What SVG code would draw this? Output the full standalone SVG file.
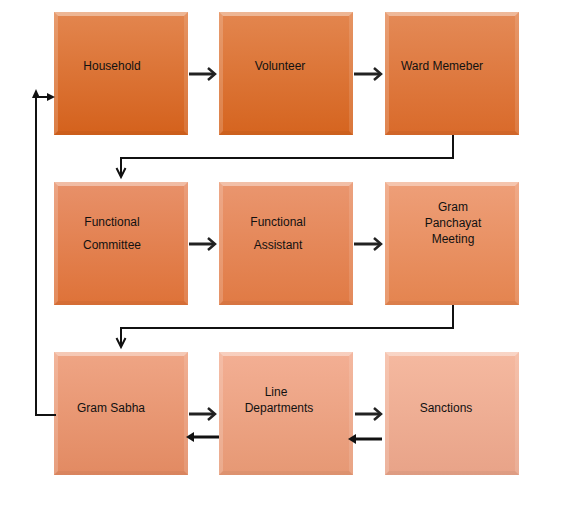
<svg xmlns="http://www.w3.org/2000/svg" width="570" height="513" viewBox="0 0 570 513">
<style>
.t{font-family:"Liberation Sans",Arial,sans-serif;font-size:12px;fill:#111;text-anchor:middle}
.c{fill:none;stroke:#111;stroke-width:2}
.fa{fill:none;stroke:#222;stroke-width:3}
.hd{fill:none;stroke:#222;stroke-width:2.5;stroke-linejoin:miter}
.back{fill:none;stroke:#111;stroke-width:3}
</style>
<defs>
<linearGradient id="g1" x1="0" y1="0" x2="0" y2="1"><stop offset="0" stop-color="#E3864F"/><stop offset="1" stop-color="#D4611C"/></linearGradient>
<linearGradient id="g2" x1="0" y1="0" x2="0" y2="1"><stop offset="0" stop-color="#E3864F"/><stop offset="1" stop-color="#D5641F"/></linearGradient>
<linearGradient id="g3" x1="0" y1="0" x2="0" y2="1"><stop offset="0" stop-color="#E48A57"/><stop offset="1" stop-color="#D96A2A"/></linearGradient>
<linearGradient id="g4" x1="0" y1="0" x2="0" y2="1"><stop offset="0" stop-color="#E8916A"/><stop offset="1" stop-color="#DE7238"/></linearGradient>
<linearGradient id="g5" x1="0" y1="0" x2="0" y2="1"><stop offset="0" stop-color="#EA966F"/><stop offset="1" stop-color="#E07A44"/></linearGradient>
<linearGradient id="g6" x1="0" y1="0" x2="0" y2="1"><stop offset="0" stop-color="#EE9F79"/><stop offset="1" stop-color="#E4844F"/></linearGradient>
<linearGradient id="g7" x1="0" y1="0" x2="0" y2="1"><stop offset="0" stop-color="#EFA585"/><stop offset="1" stop-color="#E28A62"/></linearGradient>
<linearGradient id="g8" x1="0" y1="0" x2="0" y2="1"><stop offset="0" stop-color="#F3AF94"/><stop offset="1" stop-color="#E69874"/></linearGradient>
<linearGradient id="g9" x1="0" y1="0" x2="0" y2="1"><stop offset="0" stop-color="#F5B9A0"/><stop offset="1" stop-color="#E8A388"/></linearGradient>
<g id="bevel">
<polygon points="0,0 134,0 130,4 4,4" fill="#fff" fill-opacity="0.4"/>
<polygon points="0,0 4,4 4,119 0,123" fill="#fff" fill-opacity="0.18"/>
<polygon points="134,0 134,123 130,119 130,4" fill="#fff" fill-opacity="0.12"/>
<polygon points="0,123 4,119 130,119 134,123" fill="#000" fill-opacity="0.04"/>
</g>
</defs>

<g id="household"><rect x="54" y="12" width="134" height="123" fill="url(#g1)"/><use href="#bevel" x="54" y="12"/><text class="t" x="112" y="70">Household</text></g>
<g id="volunteer"><rect x="219" y="12" width="134" height="123" fill="url(#g2)"/><use href="#bevel" x="219" y="12"/><text class="t" x="280" y="70">Volunteer</text></g>
<g id="ward"><rect x="385" y="12" width="134" height="123" fill="url(#g3)"/><use href="#bevel" x="385" y="12"/><text class="t" x="442" y="70">Ward Memeber</text></g>

<g id="fcommittee"><rect x="54" y="182" width="134" height="123" fill="url(#g4)"/><use href="#bevel" x="54" y="182"/><text class="t" x="112" y="226">Functional</text><text class="t" x="112" y="249">Committee</text></g>
<g id="fassistant"><rect x="219" y="182" width="134" height="123" fill="url(#g5)"/><use href="#bevel" x="219" y="182"/><text class="t" x="278" y="226">Functional</text><text class="t" x="278" y="249">Assistant</text></g>
<g id="gpmeeting"><rect x="385" y="182" width="134" height="123" fill="url(#g6)"/><use href="#bevel" x="385" y="182"/><text class="t" x="453" y="211">Gram</text><text class="t" x="453" y="227">Panchayat</text><text class="t" x="453" y="243">Meeting</text></g>

<g id="gramsabha"><rect x="54" y="352" width="134" height="123" fill="url(#g7)"/><use href="#bevel" x="54" y="352"/><text class="t" x="111" y="412">Gram Sabha</text></g>
<g id="linedept"><rect x="219" y="352" width="134" height="123" fill="url(#g8)"/><use href="#bevel" x="219" y="352"/><text class="t" x="276" y="396">Line</text><text class="t" x="279" y="412">Departments</text></g>
<g id="sanctions"><rect x="385" y="352" width="134" height="123" fill="url(#g9)"/><use href="#bevel" x="385" y="352"/><text class="t" x="446" y="412">Sanctions</text></g>

<g id="connectors">
<line class="fa" x1="189" y1="74" x2="214" y2="74"/><polyline class="hd" points="208,68 215,74 208,80"/>
<line class="fa" x1="354" y1="74" x2="380" y2="74"/><polyline class="hd" points="374,68 381,74 374,80"/>
<line class="fa" x1="189" y1="244" x2="214" y2="244"/><polyline class="hd" points="208,238 215,244 208,250"/>
<line class="fa" x1="354" y1="244" x2="380" y2="244"/><polyline class="hd" points="374,238 381,244 374,250"/>
<line class="fa" x1="189" y1="414" x2="214" y2="414"/><polyline class="hd" points="208,408 215,414 208,420"/>
<line class="fa" x1="355" y1="414" x2="380" y2="414"/><polyline class="hd" points="374,408 381,414 374,420"/>

<line class="back" x1="219" y1="437" x2="192" y2="437"/><polygon points="186,437 194,432 194,442" fill="#111"/>
<line class="back" x1="382" y1="439" x2="355" y2="439"/><polygon points="348,439 356,434 356,444" fill="#111"/>

<polyline class="c" points="453,135 453,158 121,158 121,176"/><polyline class="c" points="116.5,168 121,177 125.5,168"/>
<polyline class="c" points="453,305 453,328 121,328 121,346"/><polyline class="c" points="116.5,338 121,347 125.5,338"/>

<polyline class="c" points="56,415 36,415 36,97 49,97"/>
<polygon points="36,89 32,98 40,98" fill="#111"/>
<polygon points="55,97 47,93 47,101" fill="#111"/>
</g>
</svg>
